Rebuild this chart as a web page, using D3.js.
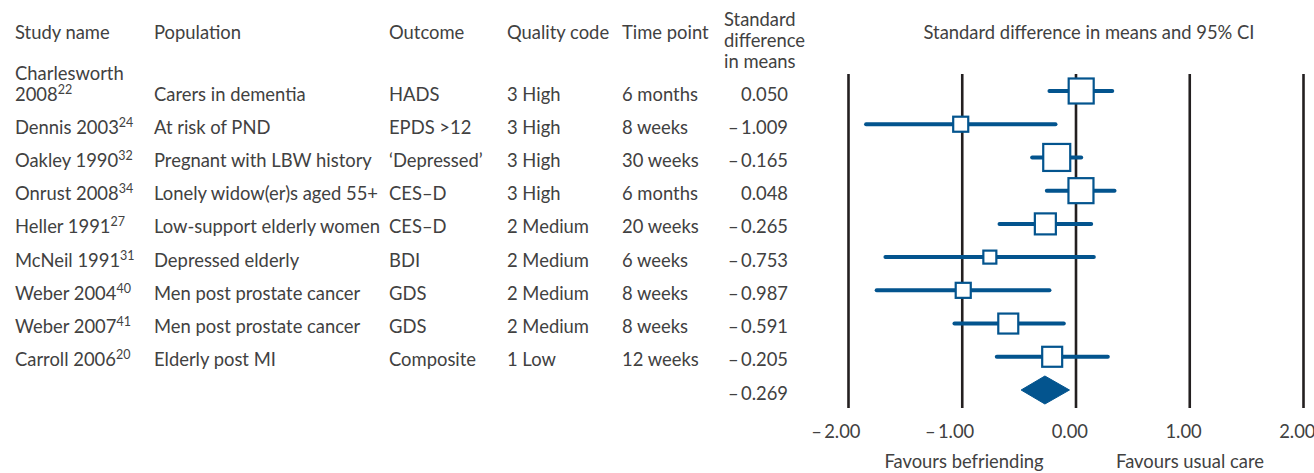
<!DOCTYPE html>
<html>
<head>
<meta charset="utf-8">
<script src="https://cdn.jsdelivr.net/npm/d3@7"></script>
<style>
  html, body { margin: 0; padding: 0; background: #fff; }
  svg { display: block; }
  text { font-family: Lato, "Noto Sans", sans-serif; fill: #414141; }
</style>
</head>
<body>
<svg id="chart" width="1314" height="473"></svg>
<script>
// Befriending trials: standardised mean difference in depression scores
const studies     = ["Charlesworth 2008", "Dennis 2003", "Oakley 1990", "Onrust 2008", "Heller 1991",
                     "McNeil 1991", "Weber 2004", "Weber 2007", "Carroll 2006"];
const refs        = ["22", "24", "32", "34", "27", "31", "40", "41", "20"];
const populations = ["Carers in dementia", "At risk of PND", "Pregnant with LBW history",
                     "Lonely widow(er)s aged 55+", "Low-support elderly women", "Depressed elderly",
                     "Men post prostate cancer", "Men post prostate cancer", "Elderly post MI"];
const outcomes    = ["HADS", "EPDS >12", "\u2018Depressed\u2019", "CES\u2013D", "CES\u2013D", "BDI",
                     "GDS", "GDS", "Composite"];
const quality     = ["3 High", "3 High", "3 High", "3 High", "2 Medium", "2 Medium",
                     "2 Medium", "2 Medium", "1 Low"];
const timepoints  = ["6 months", "8 weeks", "30 weeks", "6 months", "20 weeks", "6 weeks",
                     "8 weeks", "8 weeks", "12 weeks"];
const smd         = [0.050, -1.009, -0.165, 0.048, -0.265, -0.753, -0.987, -0.591, -0.205];
const lower       = [-0.229, -1.841, -0.381, -0.252, -0.668, -1.671, -1.748, -1.064, -0.692];
const upper       = [0.323, -0.176, 0.050, 0.343, 0.138, 0.161, -0.229, -0.103, 0.284];
const weights     = [16.3, 5.9, 19.0, 16.3, 11.5, 4.4, 5.9, 10.4, 10.4];   // relative weight, %
const pooled      = { est: -0.269, lower: -0.478, upper: -0.053 };
const axisTicks   = [-2, -1, 0, 1, 2];
const headers     = ["Study name", "Population", "Outcome", "Quality code", "Time point"];
const effectHeader = ["Standard", "difference", "in means"];
const plotTitle   = "Standard difference in means and 95% CI";
const favours     = ["Favours befriending", "Favours usual care"];

const BLUE = "#03548e";
const INK = "#231f20";
const FS = 18.4;

const svg = d3.select("#chart");

// signed numbers use a spaced dash as the minus sign
const signed = f => v => (v < 0 ? "\u2013\u2009" : "") + d3.format(f)(Math.abs(v));
const fmt = signed(".3f");

// scales
const x = d3.scaleLinear().domain([-2, 2]).range([848, 1303]);
const rowIdx = d3.range(studies.length + 1);
const y = d3.scalePoint().domain(rowIdx).range([91, 390]);
const boxSize = d3.scaleSqrt().domain([0, d3.max(weights)]).range([0, 27]);

const cols = [15, 154, 389, 507, 622];
const valueRight = 788;
const headerBase = 39;

// column headers
svg.append("g").selectAll("text").data(headers).join("text")
  .attr("x", (d, i) => cols[i]).attr("y", headerBase)
  .attr("font-size", FS).text(d => d);

svg.append("g").selectAll("text").data(effectHeader).join("text")
  .attr("x", 724).attr("y", (d, i) => 26 + i * 21)
  .attr("font-size", FS).text(d => d);

svg.append("text")
  .attr("x", 1089).attr("y", headerBase)
  .attr("text-anchor", "middle").attr("font-size", FS)
  .text(plotTitle);

// table rows
const rows = svg.append("g").selectAll("g").data(studies).join("g")
  .attr("transform", (d, i) => `translate(0,${y(i) + 9.5})`);

rows.each(function (name, i) {
  const g = d3.select(this);
  // study name wraps when it would run into the population column
  const words = name.split(" ");
  const lines = name.length > 14 ? [words.slice(0, -1).join(" "), words[words.length - 1]] : [name];
  lines.forEach((ln, k) => {
    const t = g.append("text")
      .attr("x", cols[0]).attr("y", (k - (lines.length - 1)) * 21)
      .attr("font-size", FS).text(ln);
    if (k === lines.length - 1) {
      t.append("tspan").attr("font-size", 12.5).attr("dy", -7).text(refs[i]);
    }
  });
  g.append("text").attr("x", cols[1]).attr("font-size", FS).text(populations[i]);
  g.append("text").attr("x", cols[2]).attr("font-size", FS).text(outcomes[i]);
  g.append("text").attr("x", cols[3]).attr("font-size", FS).text(quality[i]);
  g.append("text").attr("x", cols[4]).attr("font-size", FS).text(timepoints[i]);
  g.append("text").attr("x", valueRight).attr("text-anchor", "end")
    .attr("font-size", FS).text(fmt(smd[i]));
});

svg.append("text")
  .attr("x", valueRight).attr("y", y(studies.length) + 9.5)
  .attr("text-anchor", "end").attr("font-size", FS)
  .text(fmt(pooled.est));

// reference lines and axis labels
const axisY = 408;
const axis = d3.axisBottom(x)
  .tickValues(axisTicks)
  .tickSizeInner(-(axisY - 74))
  .tickSizeOuter(0)
  .tickPadding(17)
  .tickFormat(signed(".2f"));

const ax = svg.append("g").attr("transform", `translate(0,${axisY})`).call(axis);
ax.select(".domain").remove();
ax.selectAll(".tick line").attr("stroke", INK).attr("stroke-width", 2.6);
ax.selectAll(".tick text")
  .attr("font-size", FS).attr("font-family", "Lato, 'Noto Sans', sans-serif")
  .attr("fill", "#414141").attr("text-anchor", "end").attr("dx", 12);

// confidence intervals
const marks = svg.append("g");
marks.selectAll("line.ci").data(studies).join("line")
  .attr("class", "ci")
  .attr("x1", (d, i) => x(lower[i])).attr("x2", (d, i) => x(upper[i]))
  .attr("y1", (d, i) => y(i)).attr("y2", (d, i) => y(i))
  .attr("stroke", BLUE).attr("stroke-width", 4).attr("stroke-linecap", "round");

// point estimates, sized by weight
marks.selectAll("rect.est").data(studies).join("rect")
  .attr("class", "est")
  .attr("x", (d, i) => x(smd[i]) - boxSize(weights[i]) / 2)
  .attr("y", (d, i) => y(i) - boxSize(weights[i]) / 2)
  .attr("width", (d, i) => boxSize(weights[i]))
  .attr("height", (d, i) => boxSize(weights[i]))
  .attr("fill", "#fff").attr("stroke", BLUE).attr("stroke-width", 2.2);

// pooled estimate
const py = y(studies.length);
marks.append("path")
  .attr("d", `M${x(pooled.lower)},${py} L${x(pooled.est)},${py - 14} L${x(pooled.upper)},${py} L${x(pooled.est)},${py + 14} Z`)
  .attr("fill", BLUE).attr("stroke", BLUE).attr("stroke-width", 1).attr("stroke-linejoin", "round");

// direction labels
svg.append("g").selectAll("text").data(favours).join("text")
  .attr("x", (d, i) => [964, 1190][i]).attr("y", 468)
  .attr("text-anchor", "middle").attr("font-size", FS).text(d => d);
</script>
</body>
</html>
